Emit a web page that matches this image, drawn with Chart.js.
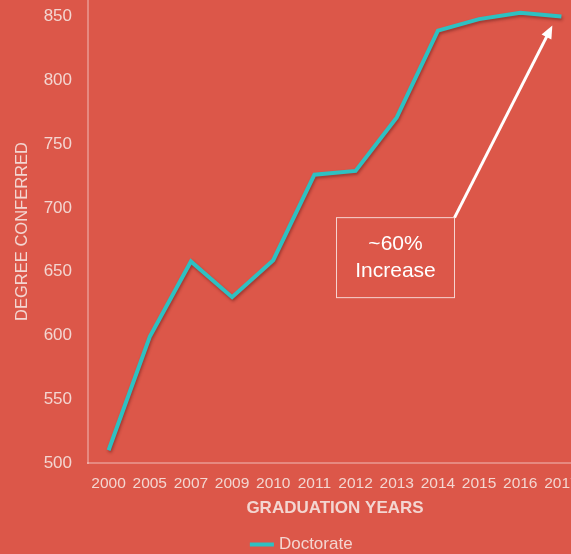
<!DOCTYPE html>
<html>
<head>
<meta charset="utf-8">
<script src="https://cdn.jsdelivr.net/npm/chart.js@4.4.1/dist/chart.umd.min.js"></script>
<style>
  html, body { margin: 0; padding: 0; background: #DC5749; overflow: hidden; }
  #wrap { width: 606px; height: 554px; }
</style>
</head>
<body>
<div id="wrap"><canvas id="degreesChart" width="606" height="554"></canvas></div>
<script>
// данные графика
const years = ['2000', '2005', '2007', '2009', '2010', '2011', '2012', '2013', '2014', '2015', '2016', '2017'];
const doctorate = [510, 599, 658, 630, 659, 726, 729, 771, 839, 848, 853, 850];
const yTicks = [500, 550, 600, 650, 700, 750, 800, 850];

// подпись с рамкой и стрелкой (позиция через шкалы)
const noteText = ['~60%', 'Increase'];
const noteAt = { index: 6.97, value: 661 };
const arrowTip = { index: 10.78, value: 843 };

const txt = '#F3D6D1';
const font = "'Liberation Sans', Arial, sans-serif";

const notePlugin = {
  id: 'note',
  afterDatasetsDraw(chart) {
    const { ctx, scales: { x, y } } = chart;
    const step = x.getPixelForValue(1) - x.getPixelForValue(0);
    const px = i => x.getPixelForValue(0) + step * i;
    const cx = px(noteAt.index), cy = y.getPixelForValue(noteAt.value);
    const w = 118, h = 80;
    const bx = cx - w / 2, by = cy - h / 2;
    ctx.save();
    ctx.strokeStyle = 'rgba(255,255,255,0.75)';
    ctx.lineWidth = 1;
    ctx.strokeRect(bx, by, w, h);
    ctx.fillStyle = '#ffffff';
    ctx.font = '21px ' + font;
    ctx.textAlign = 'center';
    ctx.textBaseline = 'middle';
    ctx.fillText(noteText[0], cx, cy - 13);
    ctx.fillText(noteText[1], cx, cy + 14);
    // стрелка
    const sx = bx + w, sy = by;
    const tx = px(arrowTip.index), ty = y.getPixelForValue(arrowTip.value);
    const ang = Math.atan2(ty - sy, tx - sx);
    ctx.strokeStyle = '#ffffff';
    ctx.lineWidth = 3;
    ctx.beginPath();
    ctx.moveTo(sx, sy);
    ctx.lineTo(tx - 10 * Math.cos(ang), ty - 10 * Math.sin(ang));
    ctx.stroke();
    ctx.beginPath();
    ctx.moveTo(tx, ty);
    ctx.lineTo(tx - 13 * Math.cos(ang) + 5.5 * Math.sin(ang), ty - 13 * Math.sin(ang) - 5.5 * Math.cos(ang));
    ctx.lineTo(tx - 13 * Math.cos(ang) - 5.5 * Math.sin(ang), ty - 13 * Math.sin(ang) + 5.5 * Math.cos(ang));
    ctx.closePath();
    ctx.fill();
    ctx.restore();
  }
};

// лёгкая тень под линией
const shadowPlugin = {
  id: 'lineShadow',
  beforeDatasetDraw(chart) {
    const ctx = chart.ctx;
    ctx.save();
    ctx.shadowColor = 'rgba(80,20,20,0.45)';
    ctx.shadowBlur = 3;
    ctx.shadowOffsetX = 1;
    ctx.shadowOffsetY = 2;
  },
  afterDatasetDraw(chart) {
    chart.ctx.restore();
  }
};

new Chart(document.getElementById('degreesChart').getContext('2d'), {
  type: 'line',
  data: {
    labels: years,
    datasets: [{
      label: 'Doctorate',
      data: doctorate,
      borderColor: '#2EC1C2',
      backgroundColor: '#2EC1C2',
      borderWidth: 4,
      pointRadius: 0,
      tension: 0,
      clip: false
    }]
  },
  options: {
    responsive: false,
    animation: false,
    layout: { padding: { top: 0, right: 0, left: 0, bottom: -9 } },
    plugins: {
      tooltip: { enabled: false },
      legend: {
        position: 'bottom',
        labels: {
          color: txt,
          font: { family: font, size: 17 },
          usePointStyle: true,
          pointStyle: 'line',
          boxWidth: 26,
          padding: 6
        }
      }
    },
    scales: {
      x: {
        offset: true,
        grid: { display: false },
        border: { display: true, color: 'rgba(255,255,255,0.3)', width: 2 },
        ticks: { color: txt, font: { family: font, size: 15.5 }, padding: 3, maxRotation: 0, autoSkip: false },
        title: {
          display: true,
          text: 'GRADUATION YEARS',
          color: txt,
          font: { family: font, size: 17, weight: 'bold' },
          padding: { top: 8, bottom: 11 }
        },
        afterFit(s) { s.height = 67; s.paddingRight = 24; }
      },
      y: {
        min: 500,
        max: 863,
        afterBuildTicks(s) { s.ticks = yTicks.map(v => ({ value: v })); },
        grid: { display: false },
        border: { display: true, color: 'rgba(255,255,255,0.3)', width: 2 },
        ticks: { color: txt, font: { family: font, size: 17 }, padding: 8 },
        title: {
          display: true,
          text: 'DEGREE CONFERRED',
          color: txt,
          font: { family: font, size: 16.5 },
          padding: { top: 13, bottom: 4 }
        },
        afterFit(s) { s.width = 88; s.paddingTop = 0; s.paddingBottom = 0; }
      }
    }
  },
  plugins: [shadowPlugin, notePlugin]
});
</script>
</body>
</html>
